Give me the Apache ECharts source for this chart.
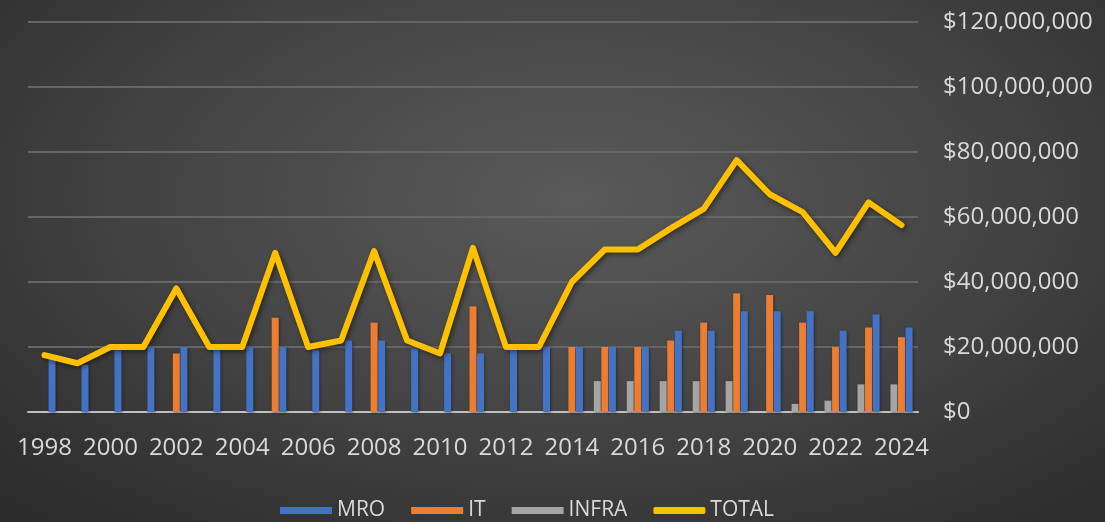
<!DOCTYPE html>
<html>
<head>
<meta charset="utf-8">
<script src="https://cdn.jsdelivr.net/npm/echarts@6/dist/echarts.min.js"></script>
<style>
    html, body {margin:0;padding:0;}
    body {width:1105px;height:522px;background:radial-gradient(ellipse 75% 85% at 52% 38%, #5a5a5a 0%, #444444 50%, #2a2a2a 100%);}
    #chart {width:1105px;height:522px;}
</style>
</head>
<body>
<div id="chart"></div>
<script>
    // 年份
    var years = ['1998','1999','2000','2001','2002','2003','2004','2005','2006','2007','2008','2009','2010','2011',
        '2012','2013','2014','2015','2016','2017','2018','2019','2020','2021','2022','2023','2024'];
    // 单位：百万美元
    var mro = [16.5,14.5,19,20,20,20,20,20,19,22,22,19.5,18,18,19.5,20,20,20,20,25,25,31,31,31,25,30,26];
    var it = [0,0,0,0,18,0,0,29,0,0,27.5,0,0,32.5,0,0,20,20,20,22,27.5,36.5,36,27.5,20,26,23];
    var infra = [0,0,0,0,0,0,0,0,0,0,0,0,0,0,0,0,0,9.5,9.5,9.5,9.5,9.5,0,2.5,3.5,8.5,8.5];
    var total = [17.5,15,20,20,38,20,20,49,20,22,49.5,22,18,50.5,20,20,40,50,50,56.5,62.5,77.5,67,61.5,49,64.5,57.5];
    var yTicks = [0,20,40,60,80,100,120];

    function toDollars(arr) {
        return arr.map(function (v) { return v ? v * 1000000 : null; });
    }

    var chart = echarts.init(document.getElementById('chart'), null, {renderer:'canvas'});
    var font = '"Open Sans", "Noto Sans", sans-serif';
    var barShadow = {shadowColor: 'rgba(0,0,0,0.4)', shadowBlur: 3, shadowOffsetX: 1, shadowOffsetY: 1};

    var option = {
        backgroundColor: 'transparent',
        animation: false,
        textStyle: {fontFamily: font},
        grid: {left: 28, right: 187, top: 22, bottom: 110},
        legend: {
            top: 495,
            left: 275,
            itemWidth: 52,
            itemHeight: 7,
            itemGap: 26,
            textStyle: {color: '#d9d9d9', fontSize: 21, fontFamily: font},
            data: [
                {name: 'MRO', icon: 'rect'},
                {name: 'IT', icon: 'rect'},
                {name: 'INFRA', icon: 'rect'},
                {name: 'TOTAL', icon: 'roundRect'}
            ]
        },
        xAxis: {
            type: 'category',
            data: years,
            axisLine: {lineStyle: {color: '#bfbfbf', width: 2}},
            axisTick: {show: false},
            axisLabel: {color: '#d9d9d9', fontSize: 24, interval: 1, margin: 24, fontFamily: font}
        },
        yAxis: {
            type: 'value',
            position: 'right',
            min: yTicks[0] * 1000000,
            max: yTicks[yTicks.length - 1] * 1000000,
            interval: 20000000,
            axisLine: {show: false},
            axisTick: {show: false},
            splitLine: {lineStyle: {color: '#666666', width: 2}},
            axisLabel: {
                color: '#d9d9d9', fontSize: 24, margin: 25, fontFamily: font,
                formatter: function (v) { return '$' + v.toLocaleString('en-US'); }
            }
        },
        series: [
            {
                name: 'INFRA', type: 'bar', data: toDollars(infra),
                barWidth: 7, barGap: '8%',
                itemStyle: Object.assign({color: '#a5a5a5'}, barShadow)
            },
            {
                name: 'IT', type: 'bar', data: toDollars(it),
                barWidth: 7, barGap: '8%',
                itemStyle: Object.assign({color: '#ed7d31'}, barShadow)
            },
            {
                name: 'MRO', type: 'bar', data: toDollars(mro),
                barWidth: 7, barGap: '8%',
                itemStyle: Object.assign({color: '#4472c4'}, barShadow)
            },
            {
                name: 'TOTAL', type: 'line', data: toDollars(total),
                symbol: 'none', smooth: false,
                itemStyle: {color: '#ffc000'},
                lineStyle: {
                    color: '#ffc000', width: 6, cap: 'round', join: 'round',
                    shadowColor: 'rgba(0,0,0,0.45)', shadowBlur: 5, shadowOffsetX: 2, shadowOffsetY: 2
                },
                z: 5
            }
        ]
    };
    chart.setOption(option);
</script>
</body>
</html>
